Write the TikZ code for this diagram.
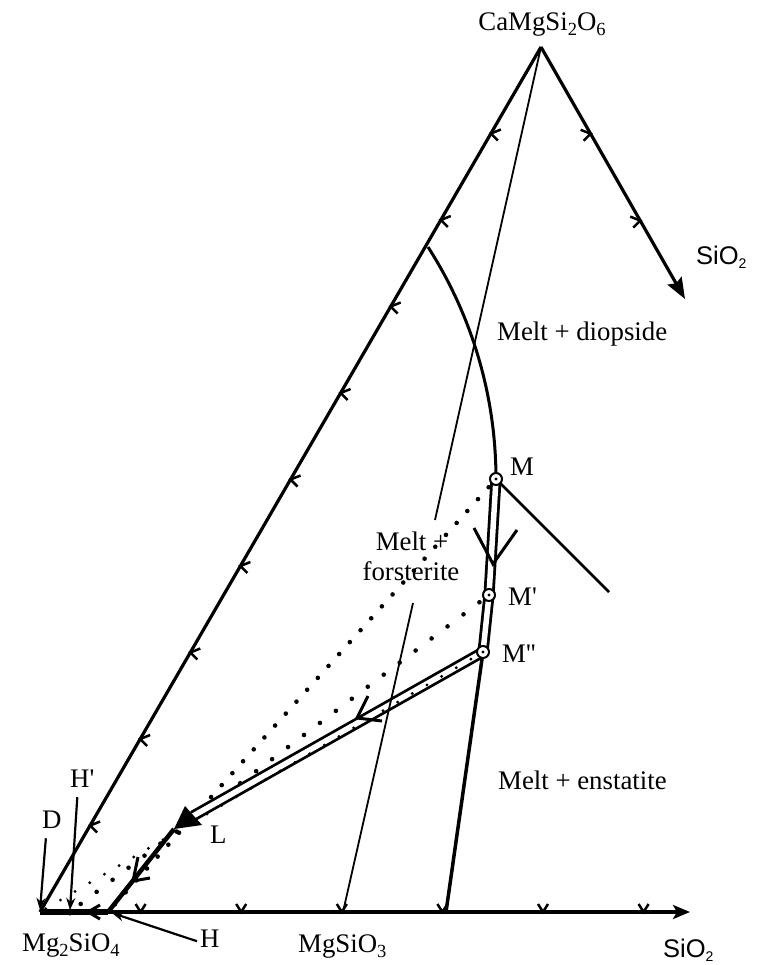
\documentclass[tikz,border=0pt]{standalone}
\usepackage{fontspec}
\setmainfont{Liberation Serif}
\newfontfamily\rmnolig[Ligatures=TeXOff]{Liberation Serif}
\newfontfamily\sansf{Liberation Sans}
\usetikzlibrary{arrows.meta,calc}
\newcommand{\lsub}[1]{\raisebox{-5pt}{\fontsize{18.5}{18.5}\selectfont #1}}
\newcommand{\ssub}[1]{\raisebox{-4pt}{\fontsize{14}{14}\selectfont #1}}
\tikzset{
  edgeln/.style={line width=3.2pt},
  thinln/.style={line width=1.8pt},
  chevln/.style={line width=2.5pt},
  dotln/.style={line width=4.6pt, line cap=round, dash pattern=on 0pt off #1},
  tubeln/.style={draw, line width=2.8pt, double=white, double distance=5.5pt},
  lbl/.style={font=\fontsize{26.8}{30}\selectfont, inner sep=0pt},
  nolig/.style={font=\rmnolig\fontsize{26.8}{30}\selectfont},
  slbl/.style={font=\sansf\fontsize{25.5}{30}\selectfont, inner sep=0pt},
  ptr/.style={line width=2.2pt, -{Stealth[length=12pt,width=9pt]}},
  ptcirc/.style={circle, draw, line width=2pt, fill=white, minimum size=12pt, inner sep=0pt},
  pathchev/.style={line width=3pt},
}
\begin{document}
\begin{tikzpicture}[x=1pt,y=-1pt]
\fill[white] (0,0) rectangle (760,965);
\useasboundingbox (0,0) rectangle (760,965);

% key points
\coordinate (Fo) at (40,912);
\coordinate (Di) at (541,47);
\coordinate (Xtip) at (690,912);
\coordinate (Stip) at (685,299);
\coordinate (M) at (496,479);
\coordinate (M1) at (489,595);
\coordinate (M2) at (483,652);
\coordinate (Lb) at (193,816);
\coordinate (Ltip) at (174,829);
\coordinate (Lc1) at (185,806);
\coordinate (Lc2) at (202,825);
\coordinate (H) at (108,912);
\coordinate (Hp) at (70,912);
\coordinate (T1) at (435,520);
\coordinate (T2) at (413,603);
\coordinate (En) at (343,912);
\coordinate (Pe) at (446,912);
\coordinate (Ce) at (609,592);

% triangle edges
\draw[edgeln] (Fo) -- (Di);
\draw[edgeln, -{Stealth[length=21pt,width=16pt,inset=3pt]}] (Di) -- (Stip);
\draw[edgeln, -{Stealth[length=17pt,width=14pt,inset=4pt]}] (Fo) -- (Xtip);

% ticks
\foreach \k in {1,...,9}
  \draw[chevln] ($(Fo)!\k/10!(Di)$) ++(10,-4) -- ++(-10,4) -- ++(7,7);
\foreach \p in {{590.6,133.8},{640.2,220.6}}
  \draw[chevln] (\p) ++(-10,-4) -- ++(10,4) -- ++(-7,7);
\foreach \x in {140.6,241.2,341.8,442.4,543,643.6}
  \draw[chevln] (\x,912) ++(-5,-8) -- ++(5,8) -- ++(5,-8);

% boundary curves
\draw[line width=3pt] plot[domain=0:32.65, samples=30, smooth] ({66+430*cos(\x)},{479-430*sin(\x)});
\draw[line width=2.8pt] (M) -- (Ce);
\draw[line width=3.5pt] (M2) -- (Pe);
\draw[thinln] (Di) -- (T1);

% dotted lines
\draw[dotln=16pt] ($(M)!11pt!(H)$) -- (H);
\draw[dotln=20pt] ($(M1)!12pt!(Hp)$) -- (Hp);

% crystallisation path (tube)
\draw[tubeln] (M) -- (M1) -- (M2) -- (Lb);
\draw[dotln=17pt, line width=3.2pt] ($(M2)!14pt!(Fo)$) -- (Fo);
\draw[thinln] (T2) -- (En);
\fill (Ltip) -- (Lc1) -- (Lc2) -- cycle;
\draw[line width=4.5pt] (Ltip) -- (H);
\draw[line width=5.5pt] (Fo) -- (H);
\fill (Hp) circle[radius=3.5pt];

% path arrows
\draw[pathchev] (493,564) ++(-19,-36) -- ++(19,36) -- ++(24,-34);
\draw[pathchev] (357,718) ++(11,-22) -- ++(-11,22) -- ++(25,3);
\draw[pathchev] (133,881) ++(5,-24) -- ++(-5,24) -- ++(17,-3);
\draw[pathchev] (88,912) ++(12,-7) -- ++(-12,7) -- ++(12,7);

% points
\node[ptcirc] (Mc) at (M) {};
\fill (M) circle[radius=1.6pt];
\node[ptcirc] (M1c) at (M1) {};
\fill (M1) circle[radius=1.6pt];
\node[ptcirc] (M2c) at (M2) {};
\fill (M2) circle[radius=1.6pt];

% labels
\node[lbl, anchor=base] (Dil) at (542,31) {CaMgSi\lsub{2}O\lsub{6}};
\node[slbl, anchor=base west] (S1) at (696,265) {SiO\ssub{2}};
\node[lbl, anchor=base west] (Md) at (497,340) {Melt + diopside};
\node[lbl, anchor=base west] (Ml) at (510,475) {M};
\node[lbl, anchor=base] (Mf1) at (412,550) {Melt +};
\node[lbl, anchor=base] (Mf2) at (411,580) {forsterite};
\node[lbl, nolig, anchor=base west] (M1l) at (508,605) {M'};
\node[lbl, nolig, anchor=base west] (M2l) at (502,662) {M''};
\node[lbl, anchor=base west] (Me) at (498,789) {Melt + enstatite};
\node[lbl, anchor=base west] (Ll) at (210,843) {L};
\node[lbl, anchor=base west] (Dl) at (42,828) {D};
\node[lbl, nolig, anchor=base west] (Hpl) at (70,787) {H'};
\node[lbl, anchor=base west] (Fol) at (22,951) {Mg\lsub{2}SiO\lsub{4}};
\node[lbl, anchor=base west] (Hl) at (200,947) {H};
\node[lbl, anchor=base west] (Enl) at (298,952) {MgSiO\lsub{3}};
\node[slbl, anchor=base west] (S2) at (663,957) {SiO\ssub{2}};

% pointer arrows
\draw[ptr] ([xshift=-6pt,yshift=-10pt]Dl.south) -- ([yshift=2pt]Fo);
\draw[ptr] ([xshift=-5pt,yshift=-10pt]Hpl.south) -- ([yshift=2pt]Hp);
\draw[ptr] ([xshift=-3pt,yshift=-3pt]Hl.west) -- ([xshift=4pt,yshift=-1pt]H);
\end{tikzpicture}
\end{document}
